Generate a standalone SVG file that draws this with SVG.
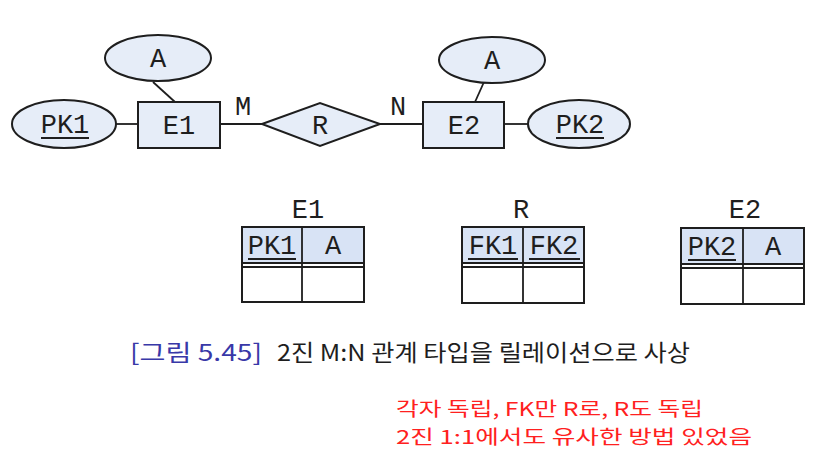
<svg xmlns="http://www.w3.org/2000/svg" width="822" height="459" viewBox="0 0 822 459">
<style>
.sh{fill:#e6edf8;stroke:#1e1e1e;stroke-width:2}
.ln{stroke:#1e1e1e;stroke-width:1.8;fill:none}
.m{font-family:"Liberation Mono","DejaVu Sans Mono",monospace;font-size:27px;fill:#1e1e1e;text-anchor:middle}
.hd{fill:#d8e3f5;stroke:none}
.tb{fill:none;stroke:#1e1e1e;stroke-width:2}
.cap{font-family:"Noto Sans CJK KR","Noto Sans",sans-serif;font-size:23px}
.red{font-family:"Noto Sans CJK KR","Noto Sans",sans-serif;font-size:19px;fill:#ff2020}
</style>
<rect width="822" height="459" fill="#ffffff"/>
<g id="connectors">
<line class="ln" x1="153" y1="82" x2="175" y2="102"/>
<line class="ln" x1="116" y1="124" x2="138" y2="124"/>
<line class="ln" x1="220" y1="124" x2="262" y2="124"/>
<line class="ln" x1="380" y1="124" x2="423" y2="124"/>
<line class="ln" x1="484" y1="82" x2="475" y2="102"/>
<line class="ln" x1="504" y1="124" x2="528" y2="124"/>
<text class="m" x="243" y="115">M</text>
<text class="m" x="398" y="115">N</text>
</g>
<g id="attrA1"><ellipse class="sh" cx="158" cy="58" rx="53" ry="23"/><text class="m" x="158" y="67">A</text></g>
<g id="attrPK1"><ellipse class="sh" cx="64" cy="124" rx="52" ry="24"/><text class="m" x="65" y="133">PK1</text><line class="ln" x1="41" y1="138" x2="89" y2="138"/></g>
<g id="E1"><rect class="sh" x="138" y="102" width="82" height="46"/><text class="m" x="179" y="134">E1</text></g>
<g id="R"><polygon class="sh" points="262,124 320,103 380,124 320,146"/><text class="m" x="320" y="134">R</text></g>
<g id="E2"><rect class="sh" x="423" y="102" width="81" height="46"/><text class="m" x="464" y="134">E2</text></g>
<g id="attrA2"><ellipse class="sh" cx="492" cy="60" rx="53" ry="23"/><text class="m" x="492" y="69">A</text></g>
<g id="attrPK2"><ellipse class="sh" cx="579" cy="124" rx="51" ry="24"/><text class="m" x="580" y="133">PK2</text><line class="ln" x1="556" y1="138" x2="604" y2="138"/></g>

<g id="tableE1">
<text class="m" x="308" y="218">E1</text>
<rect class="hd" x="242" y="227" width="122" height="36"/>
<rect class="tb" x="242" y="227" width="122" height="75"/>
<line class="ln" x1="242" y1="263" x2="364" y2="263"/>
<line class="ln" x1="242" y1="267" x2="364" y2="267"/>
<line class="ln" x1="302" y1="227" x2="302" y2="302"/>
<text class="m" x="272" y="254">PK1</text><line class="ln" x1="248" y1="259" x2="296" y2="259"/>
<text class="m" x="333" y="254">A</text>
</g>
<g id="tableR">
<text class="m" x="521" y="218">R</text>
<rect class="hd" x="462" y="227" width="122" height="36"/>
<rect class="tb" x="462" y="227" width="122" height="76"/>
<line class="ln" x1="462" y1="263" x2="584" y2="263"/>
<line class="ln" x1="462" y1="267" x2="584" y2="267"/>
<line class="ln" x1="523" y1="227" x2="523" y2="303"/>
<text class="m" x="493" y="254">FK1</text><line class="ln" x1="468" y1="259" x2="518" y2="259"/>
<text class="m" x="554" y="254">FK2</text><line class="ln" x1="529" y1="259" x2="580" y2="259"/>
</g>
<g id="tableE2">
<text class="m" x="745" y="218">E2</text>
<rect class="hd" x="681" y="228" width="123" height="36"/>
<rect class="tb" x="681" y="228" width="123" height="76"/>
<line class="ln" x1="681" y1="264" x2="804" y2="264"/>
<line class="ln" x1="681" y1="268" x2="804" y2="268"/>
<line class="ln" x1="743" y1="228" x2="743" y2="304"/>
<text class="m" x="712" y="255">PK2</text><line class="ln" x1="688" y1="260" x2="736" y2="260"/>
<text class="m" x="773" y="255">A</text>
</g>
<g id="caption">
<text class="cap" x="130" y="361" fill="#3838a8" textLength="132" lengthAdjust="spacingAndGlyphs">[그림 5.45]</text>
<text class="cap" x="277" y="361" fill="#1e1e1e" textLength="413" lengthAdjust="spacingAndGlyphs">2진 M:N 관계 타입을 릴레이션으로 사상</text>
</g>
<g id="note">
<text class="red" x="396" y="416" textLength="307" lengthAdjust="spacingAndGlyphs">각자 독립, FK만 R로, R도 독립</text>
<text class="red" x="396" y="444" textLength="356" lengthAdjust="spacingAndGlyphs">2진 1:1에서도 유사한 방법 있었음</text>
</g>
</svg>
